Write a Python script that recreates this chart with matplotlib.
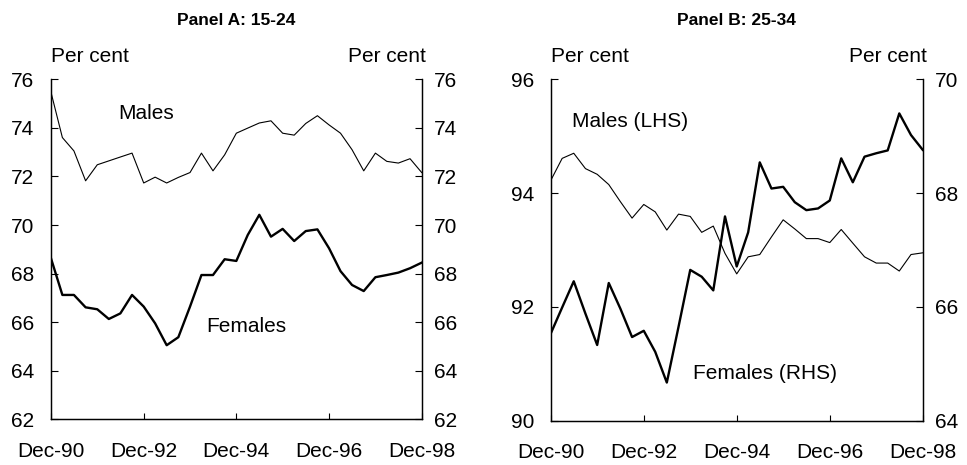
import numpy as np
import pandas as pd
import matplotlib
matplotlib.use("Agg")
import matplotlib.pyplot as plt
import matplotlib.dates as mdates

plt.rcParams["font.family"] = ["Liberation Sans", "DejaVu Sans"]

# quarterly observations, Dec-90 to Dec-98
dates = pd.date_range("1990-12-31", "1998-12-31", freq="QE-DEC")

# panel A: aged 15-24 (per cent)
males_15_24 = [75.47, 73.60, 73.05, 71.82, 72.48, 72.64, 72.80, 72.96, 71.73,
               71.97, 71.73, 71.96, 72.16, 72.96, 72.23, 72.89, 73.78, 73.99,
               74.20, 74.29, 73.78, 73.70, 74.18, 74.50, 74.12, 73.78, 73.10,
               72.23, 72.96, 72.62, 72.55, 72.73, 72.16]
females_15_24 = [68.63, 67.12, 67.12, 66.61, 66.53, 66.13, 66.36, 67.12, 66.64,
                 65.95, 65.05, 65.38, 66.64, 67.94, 67.94, 68.59, 68.52, 69.59,
                 70.42, 69.52, 69.84, 69.34, 69.75, 69.82, 69.04, 68.10, 67.53,
                 67.28, 67.85, 67.94, 68.04, 68.22, 68.45]

# panel B: aged 25-34 (per cent)
males_25_34 = [94.22, 94.61, 94.70, 94.43, 94.33, 94.15, 93.85, 93.56, 93.80,
               93.67, 93.35, 93.63, 93.59, 93.31, 93.42, 92.94, 92.58, 92.88,
               92.92, 93.23, 93.53, 93.37, 93.20, 93.20, 93.13, 93.36, 93.12,
               92.88, 92.77, 92.77, 92.63, 92.92, 92.95]
females_25_34 = [65.53, 65.99, 66.45, 65.88, 65.33, 66.42, 65.97, 65.47, 65.58,
                 65.21, 64.67, 65.65, 66.65, 66.53, 66.29, 67.59, 66.71, 67.31,
                 68.54, 68.08, 68.11, 67.84, 67.70, 67.73, 67.87, 68.61, 68.19,
                 68.64, 68.70, 68.75, 69.40, 69.02, 68.76]

tick_dates = pd.to_datetime(["1990-12-31", "1992-12-31", "1994-12-31",
                             "1996-12-31", "1998-12-31"])
fs = 15


def style_axes(ax, ax2):
    ax.set_xlim(dates[0], dates[-1])
    ax.set_xticks(tick_dates)
    ax.xaxis.set_major_formatter(mdates.DateFormatter("Dec-%y"))
    ax.spines["top"].set_visible(False)
    ax2.spines["top"].set_visible(False)
    ax.tick_params(axis="x", direction="in", length=4, pad=16, labelsize=fs)
    ax.tick_params(axis="y", direction="in", length=5, pad=12, labelsize=fs)
    ax2.tick_params(axis="y", direction="in", length=5, pad=9, labelsize=fs)
    for a in (ax, ax2):
        for s in a.spines.values():
            s.set_linewidth(0.9)
    ax.text(0, 1.066, "Per cent", transform=ax.transAxes, fontsize=fs,
            ha="left", va="center")
    ax.text(1.012, 1.066, "Per cent", transform=ax.transAxes, fontsize=fs,
            ha="right", va="center")


fig = plt.figure(figsize=(9.67, 4.65), dpi=100)

# Panel A
axA = fig.add_axes([0.0527, 0.0983, 0.3834, 0.7312])
axA2 = axA.twinx()
axA.plot(dates, males_15_24, color="black", linewidth=0.8)
axA.plot(dates, females_15_24, color="black", linewidth=1.7)
axA.set_ylim(62, 76)
axA.set_yticks(np.arange(62, 77, 2))
axA2.set_ylim(62, 76)
axA2.set_yticks(np.arange(62, 77, 2))
style_axes(axA, axA2)
axA.text(pd.Timestamp("1992-06-15"), 74.6, "Males", fontsize=fs, va="center")
axA.text(pd.Timestamp("1994-05-10"), 65.82, "Females", fontsize=fs, va="center")

# Panel B: males on the left scale, females on the right scale
axB = fig.add_axes([0.5695, 0.0953, 0.3847, 0.7342])
axB2 = axB.twinx()
axB.plot(dates, males_25_34, color="black", linewidth=0.8)
axB2.plot(dates, females_25_34, color="black", linewidth=1.7)
axB.set_ylim(90, 96)
axB.set_yticks([90, 92, 94, 96])
axB2.set_ylim(64, 70)
axB2.set_yticks([64, 66, 68, 70])
style_axes(axB, axB2)
axB.text(pd.Timestamp("1991-06-20"), 95.25, "Males (LHS)", fontsize=fs,
         va="center")
axB.text(pd.Timestamp("1994-01-25"), 90.83, "Females (RHS)", fontsize=fs,
         va="center")

fig.text(0.2444, 0.955, "Panel A: 15-24", ha="center", va="center",
         fontsize=12.5, fontweight="bold")
fig.text(0.7618, 0.955, "Panel B: 25-34", ha="center", va="center",
         fontsize=12.5, fontweight="bold")

fig.savefig("out.png", dpi=100)
